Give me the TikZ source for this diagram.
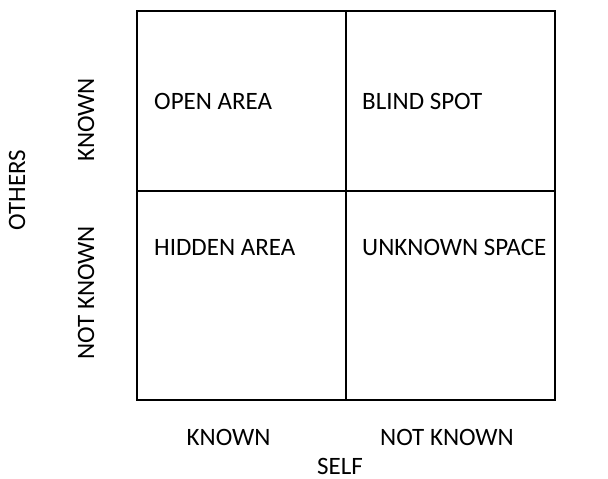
\documentclass[tikz,border=0pt]{standalone}
\usepackage{fontspec}
\setmainfont{Carlito}
\begin{document}
\begin{tikzpicture}[x=1pt,y=-1pt,
  lbl/.style={font=\fontsize{25}{30}\selectfont, inner sep=0pt},
  grid/.style={draw=black, line width=2pt}]
\useasboundingbox (0,0) rectangle (608,479);
\coordinate (tl) at (137,11);
\coordinate (br) at (555,400);
\draw[grid] (tl) rectangle (br);
\coordinate (mt) at (346,11);
\coordinate (mb) at (346,400);
\coordinate (ml) at (137,191);
\coordinate (mr) at (555,191);
\draw[grid] (mt) -- (mb);
\draw[grid] (ml) -- (mr);
\node[lbl, anchor=west] (open) at (154,101) {OPEN AREA};
\node[lbl, anchor=west] (blind) at (362,101) {BLIND SPOT};
\node[lbl, anchor=west] (hidden) at (154,247) {HIDDEN AREA};
\node[lbl, anchor=west] (unknown) at (362,247) {UNKNOWN SPACE};
\node[lbl, rotate=90] (ok) at (86,120) {KNOWN};
\node[lbl, rotate=90] (onk) at (86,293) {NOT KNOWN};
\node[lbl, rotate=90] (others) at (17,190) {OTHERS};
\node[lbl] (sk) at (228.5,437) {KNOWN};
\node[lbl] (snk) at (447,437) {NOT KNOWN};
\node[lbl] (self) at (340,466) {SELF};
\end{tikzpicture}
\end{document}
